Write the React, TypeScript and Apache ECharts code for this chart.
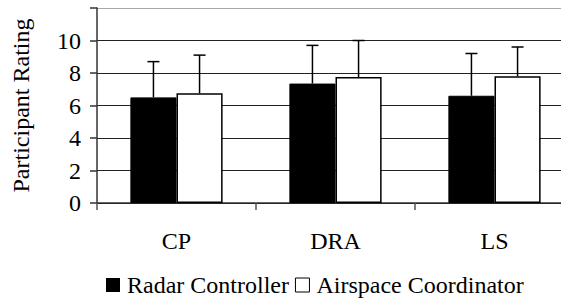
import React, { useEffect, useRef } from "react";
import * as echarts from "echarts";

const categories = ["CP", "DRA", "LS"];
const radarMeans = [6.5, 7.35, 6.6];
const radarUpper = [8.7, 9.7, 9.2];
const airspaceMeans = [6.75, 7.75, 7.8];
const airspaceUpper = [9.1, 10.0, 9.6];
const seriesNames = ["Radar Controller", "Airspace Coordinator"];
const yTicks = [0, 2, 4, 6, 8, 10];

const FONT = "Liberation Serif";

function errorSeries(means: number[], upper: number[], offset: number) {
  return {
    type: "custom",
    z: 5,
    silent: true,
    data: means.map((m, i) => [i, m, upper[i]]),
    renderItem: (params: any, api: any) => {
      const idx = api.value(0);
      const base = api.coord([idx, api.value(1)]);
      const top = api.coord([idx, api.value(2)]);
      const band = api.size([1, 0])[0];
      const cx = base[0] + offset * band;
      const style = { stroke: "#000", lineWidth: 1.5 };
      return {
        type: "group",
        children: [
          { type: "line", shape: { x1: cx, y1: base[1], x2: cx, y2: top[1] }, style },
          { type: "line", shape: { x1: cx - 6, y1: top[1], x2: cx + 6, y2: top[1] }, style },
        ],
      };
    },
  };
}

export default function App() {
  const ref = useRef<HTMLDivElement>(null);
  useEffect(() => {
    if (!ref.current) return;
    const chart = echarts.init(ref.current, null, { renderer: "svg" });
    chart.setOption({
      animation: false,
      backgroundColor: "#fff",
      textStyle: { fontFamily: FONT, fontSize: 24 },
      grid: { left: 97, top: 8, bottom: 95, right: 0, containLabel: false },
      legend: {
        left: 101,
        top: 268,
        itemWidth: 14,
        itemHeight: 14,
        itemGap: 6,
        textStyle: { fontFamily: FONT, fontSize: 24, color: "#000", padding: [0, 0, 0, 2] },
        data: [
          { name: seriesNames[0], icon: "rect", itemStyle: { color: "#000", borderColor: "#000", borderWidth: 0 } },
          { name: seriesNames[1], icon: "rect", itemStyle: { color: "#fff", borderColor: "#000", borderWidth: 1 } },
        ],
      },
      xAxis: {
        type: "category",
        data: categories,
        axisLine: { lineStyle: { color: "#333", width: 1.5 } },
        axisTick: { show: true, length: 7, alignWithLabel: false, lineStyle: { color: "#555", width: 1.5 } },
        axisLabel: { fontFamily: FONT, fontSize: 24, color: "#000", margin: 26 },
        splitLine: { show: false },
      },
      yAxis: {
        type: "value",
        min: 0,
        max: 12,
        interval: 2,
        name: "Participant Rating",
        nameLocation: "middle",
        nameGap: 64,
        nameTextStyle: { fontFamily: FONT, fontSize: 24, color: "#000" },
        axisLine: { show: true, lineStyle: { color: "#333", width: 1.5 } },
        axisTick: { show: true, length: 7, lineStyle: { color: "#333", width: 1.5 } },
        axisLabel: {
          fontFamily: FONT,
          fontSize: 24,
          color: "#000",
          margin: 16,
          formatter: (v: number) => (yTicks.includes(v) ? String(v) : ""),
        },
        splitLine: {
          show: true,
          lineStyle: {
            color: ["#000", "#222", "#222", "#222", "#222", "#222", "#a8a8a8"],
            width: 1.2,
          },
        },
      },
      series: [
        {
          name: seriesNames[0],
          type: "bar",
          data: radarMeans,
          barGap: "0%",
          barCategoryGap: "42%",
          itemStyle: { color: "#000", borderColor: "#000", borderWidth: 1 },
        },
        {
          name: seriesNames[1],
          type: "bar",
          data: airspaceMeans,
          barGap: "0%",
          barCategoryGap: "42%",
          itemStyle: { color: "#fff", borderColor: "#000", borderWidth: 1.5 },
        },
        errorSeries(radarMeans, radarUpper, -0.145),
        errorSeries(airspaceMeans, airspaceUpper, 0.145),
      ],
    });
    return () => chart.dispose();
  }, []);
  return (
    <div style={{ position: "fixed", left: 0, top: 0, width: 561, height: 298, overflow: "hidden", background: "#fff" }}>
      <div ref={ref} style={{ width: 574, height: 298 }} />
    </div>
  );
}
